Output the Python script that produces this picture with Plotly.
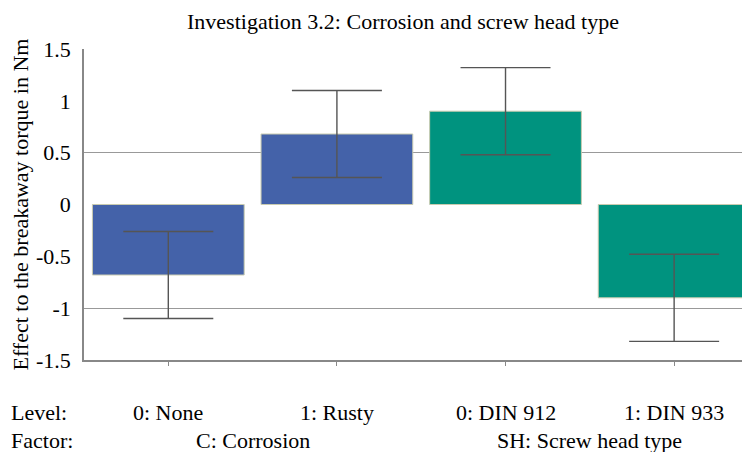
import plotly.graph_objects as go

levels = ["0: None", "1: Rusty", "0: DIN 912", "1: DIN 933"]
effects = [-0.68, 0.68, 0.90, -0.90]
errors = [0.42, 0.42, 0.42, 0.42]
colors = ["#4462A9", "#4462A9", "#00937F", "#00937F"]
factors = ["C: Corrosion", "SH: Screw head type"]
factor_pos = [0.5, 2.5]
ytick_vals = [1.5, 1, 0.5, 0, -0.5, -1, -1.5]
ytick_text = ["1.5", "1", "0.5", "0", "-0.5", "-1", "-1.5"]
grid_vals = [0.5, -1]

FONT = "Liberation Serif"
FS = 22
x = list(range(len(levels)))

fig = go.Figure()
# invisible trace to activate the grid axis
fig.add_trace(go.Scatter(x=[x[0]], y=[grid_vals[0]], yaxis="y2",
                         mode="markers", marker=dict(opacity=0),
                         showlegend=False, hoverinfo="skip"))
fig.add_trace(go.Bar(
    x=x, y=effects, width=0.9,
    marker=dict(color=colors, line=dict(color="#c9cbb0", width=1)),
    error_y=dict(type="data", array=errors, visible=True,
                 color="#555555", thickness=1.4, width=45),
    showlegend=False,
))

fig.update_layout(
    width=742, height=444,
    margin=dict(l=76, r=0, t=41, b=92, autoexpand=False),
    plot_bgcolor="white", paper_bgcolor="white",
    font=dict(family=FONT, size=FS, color="black"),
    xaxis=dict(range=[-0.5, 3.45], tickvals=x, ticktext=[""] * len(x),
               ticks="outside", ticklen=4, tickcolor="#888888",
               showgrid=False, zeroline=False, showline=True,
               linecolor="#888888", linewidth=1.5, automargin=False),
    yaxis=dict(range=[-1.5, 1.5], tickvals=ytick_vals, ticktext=ytick_text,
               showgrid=False, zeroline=False, showline=True,
               linecolor="#888888", linewidth=1.5, ticks="",
               ticklabelstandoff=7, automargin=False,
               tickfont=dict(family=FONT, size=FS)),
    yaxis2=dict(range=[-1.5, 1.5], overlaying="y", tickvals=grid_vals,
                showticklabels=False, showgrid=True, gridcolor="#999999",
                gridwidth=1.2, zeroline=False, showline=False, automargin=False),
)

fig.add_annotation(text="Effect to the breakaway torque in Nm", textangle=-90,
                   xref="paper", yref="paper", x=0, y=0.5, xshift=-64,
                   xanchor="center", yanchor="middle", showarrow=False,
                   font=dict(family=FONT, size=FS))

fig.add_annotation(text="Investigation 3.2: Corrosion and screw head type",
                   xref="paper", yref="paper", x=0.5, y=1.0, yshift=28,
                   xshift=-14, xanchor="center", yanchor="middle",
                   showarrow=False, font=dict(family=FONT, size=FS))

for xi, lab in zip(x, levels):
    fig.add_annotation(text=lab, xref="x", yref="paper", x=xi, y=0,
                       yshift=-52, xanchor="center", yanchor="middle",
                       showarrow=False, font=dict(family=FONT, size=FS))
for xp, lab in zip(factor_pos, factors):
    fig.add_annotation(text=lab, xref="x", yref="paper", x=xp, y=0,
                       yshift=-80, xanchor="center", yanchor="middle",
                       showarrow=False, font=dict(family=FONT, size=FS))
fig.add_annotation(text="Level:", xref="paper", yref="paper", x=0, y=0,
                   xanchor="left", yanchor="middle", xshift=-75, yshift=-52,
                   showarrow=False, font=dict(family=FONT, size=FS))
fig.add_annotation(text="Factor:", xref="paper", yref="paper", x=0, y=0,
                   xanchor="left", yanchor="middle", xshift=-75, yshift=-80,
                   showarrow=False, font=dict(family=FONT, size=FS))

fig.write_html("out.html")
